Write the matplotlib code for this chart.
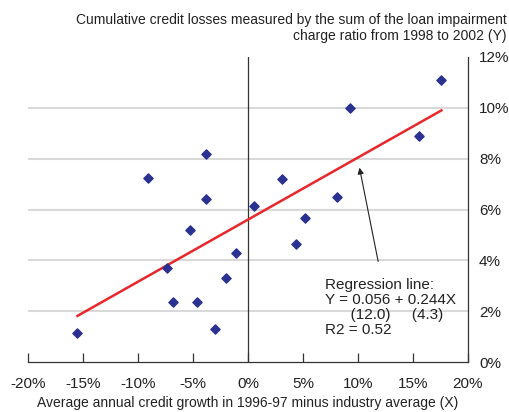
import numpy as np
import matplotlib.pyplot as plt

plt.rcParams['font.family'] = ['Liberation Sans', 'DejaVu Sans']

# credit growth vs industry average (%), cumulative loss ratio (%)
credit_growth = [17.6, 9.3, 15.6, -3.8, -9.1, 3.1, -3.8, 8.1, 0.6, 5.2,
                 -5.3, 4.4, -1.1, -7.4, -2.0, -6.8, -4.6, -3.0, -15.5]
credit_losses = [11.1, 10.0, 8.9, 8.2, 7.25, 7.2, 6.4, 6.5, 6.15, 5.65,
                 5.2, 4.65, 4.3, 3.7, 3.3, 2.35, 2.35, 1.3, 1.15]

intercept = 5.6
slope = 0.244

x_ticks = [-20, -15, -10, -5, 0, 5, 10, 15, 20]
y_ticks = [0, 2, 4, 6, 8, 10, 12]

fig = plt.figure(figsize=(5.09, 4.12), dpi=100)
ax = fig.add_axes([0.055, 0.121, 0.864, 0.741])

# grid
for y in y_ticks[1:-1]:
    ax.axhline(y, color='#d9d9d9', lw=1.5, zorder=0)
ax.axvline(0, color='#333333', lw=0.9, zorder=1)

ax.scatter(credit_growth, credit_losses, marker='D', s=22, color='#2b3190', zorder=3)

xs = np.array([min(credit_growth), max(credit_growth)])
ax.plot(xs, intercept + slope * xs, color='#e8262b', lw=1.8, zorder=2)

ax.annotate('', xy=(10.1, 7.75), xytext=(11.9, 3.85),
            arrowprops=dict(arrowstyle='-|>', color='#222222', lw=0.8,
                            mutation_scale=9))
ax.text(7.0, 3.3, 'Regression line:\nY = 0.056 + 0.244X\n      (12.0)     (4.3)\nR2 = 0.52',
        fontsize=11, color='#222222', va='top', ha='left', linespacing=1.1)

ax.set_xlim(-20, 20)
ax.set_ylim(0, 12)
ax.set_xticks(x_ticks)
ax.set_xticklabels([f'{t}%' for t in x_ticks])
ax.set_yticks(y_ticks)
ax.set_yticklabels([f'{t}%' for t in y_ticks])
ax.yaxis.tick_right()
ax.tick_params(axis='y', length=0, pad=8, labelsize=11, colors='#222222')
ax.tick_params(axis='x', direction='in', length=6.5, width=0.9, pad=11,
               labelsize=11, colors='#222222', color='#333333')

for side in ['left', 'top']:
    ax.spines[side].set_visible(False)
for side in ['right', 'bottom']:
    ax.spines[side].set_color('#333333')
    ax.spines[side].set_linewidth(0.9)

ax.set_xlabel('Average annual credit growth in 1996-97 minus industry average (X)',
              fontsize=10, color='#222222', labelpad=3)
fig.text(0.996, 0.968, 'Cumulative credit losses measured by the sum of the loan impairment\n'
         'charge ratio from 1998 to 2002 (Y)', ha='right', va='top', fontsize=10,
         color='#222222', linespacing=1.2)

fig.savefig('out.png', dpi=100)
